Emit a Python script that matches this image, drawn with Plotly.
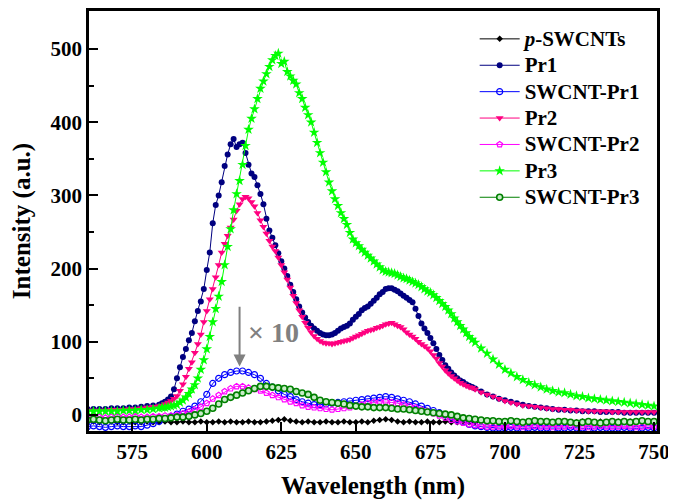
import plotly.graph_objects as go

# ---------------- data ----------------
# fine wavelength grid (nm) for the strong emission curves
wl_fine = list(range(560, 585, 2)) + list(range(585, 691)) + list(range(692, 751, 2))
# coarse wavelength grid (nm) for the weak curves
wl_coarse = list(range(560, 751, 2))

pr1 = [8, 8, 8, 8, 9, 9, 9, 10, 10, 11, 12, 13, 14,
       16, 18, 21, 25, 35, 50, 65, 79, 90, 102,
       112, 128, 142, 155, 172, 198, 222, 262, 287, 300,
       318, 340, 356, 370, 377, 366, 370, 372, 358, 342,
       330, 325, 314, 302, 288, 268, 252, 242, 232, 221,
       210, 200, 190, 178, 168, 158, 148, 140, 133, 127,
       122, 118, 115, 112, 110, 109, 109, 110, 112, 115,
       118, 120, 122, 125, 130, 134, 138, 143, 146, 148,
       152, 156, 160, 165, 168, 172, 173, 173, 171, 169,
       166, 163, 160, 157, 154, 145, 135, 125, 118, 112,
       105, 98, 90, 82, 75, 68, 63, 58, 54, 50,
       47, 45, 42, 40, 38, 36,
       32, 28, 25, 22, 20, 18, 16, 14, 12, 11,
       10, 9, 8, 7, 7, 6, 6, 5, 5, 5,
       4, 4, 4, 4, 3, 3, 3, 3, 3, 3]

pr2 = [6, 6, 6, 6, 7, 7, 7, 8, 8, 9, 10, 11, 12,
       13, 15, 17, 19, 22, 26, 33, 42, 52, 63,
       72, 85, 97, 110, 127, 142, 158, 172, 188, 205,
       222, 234, 245, 256, 267, 279, 288, 295, 298, 296,
       291, 285, 276, 266, 257, 248, 238, 230, 224, 215,
       205, 195, 185, 174, 163, 153, 143, 134, 126, 119,
       113, 108, 104, 101, 99, 98, 98, 97, 98, 99,
       100, 101, 102, 103, 105, 107, 109, 111, 113, 115,
       116, 117, 119, 120, 122, 124, 125, 126, 124, 122,
       120, 117, 113, 110, 107, 104, 100, 97, 94, 91,
       87, 82, 77, 71, 66, 61, 57, 53, 50, 47,
       44, 42, 40, 38, 37, 35,
       31, 28, 25, 22, 19, 17, 15, 13, 12, 11,
       10, 9, 8, 8, 7, 7, 6, 6, 5, 5,
       5, 5, 4, 4, 4, 4, 4, 4, 4, 4]

pr3 = [5, 5, 5, 5, 5, 5, 6, 6, 6, 7, 7, 8, 9,
       10, 10, 11, 12, 13, 14, 17, 20, 24, 29,
       35, 41, 50, 62, 75, 90, 107, 127, 145, 162,
       182, 205, 230, 254, 280, 302, 320, 342, 368, 390,
       405, 418, 432, 446, 456, 466, 476, 485, 491, 494,
       480, 483, 469, 463, 457, 452, 440, 432, 420, 410,
       400, 386, 372, 358, 345, 332, 318, 306, 295, 286,
       276, 268, 260, 249, 240, 235, 231, 226, 222, 218,
       214, 210, 206, 202, 198, 196, 195, 194, 193, 191,
       189, 187, 186, 184, 182, 180, 178, 175, 172, 169,
       167, 164, 160, 156, 152, 148, 143, 138, 132, 127,
       122, 117, 112, 107, 103, 99,
       91, 84, 76, 69, 62, 57, 52, 48, 44, 41,
       38, 35, 33, 31, 30, 28, 26, 25, 23, 22,
       21, 20, 19, 18, 17, 16, 15, 14, 13, 12]

swcnt_pr1 = [-16, -15, -16, -17, -16, -15, -16, -16, -15, -16,
             -14, -12, -9, -5, -2, 1, 5, 8, 12, 18,
             28, 43, 50, 55, 58, 60, 60, 58, 55, 50,
             43, 38, 33, 28, 25, 21, 18, 16, 14, 14,
             15, 16, 17, 18, 19, 20, 21, 22, 23, 24,
             25, 24, 22, 20, 18, 15, 12, 9, 6, 3,
             0, -3, -7, -10, -13, -15, -16, -17, -18, -18,
             -18, -17, -18, -19, -18, -17, -18, -18, -19, -18,
             -18, -17, -18, -18, -19, -18, -17, -18, -18, -18,
             -17, -18, -19, -18, -17, -18]

swcnt_pr2 = [-3, -2, -3, -4, -3, -2, -3, -3, -2, -3,
             -3, -2, -2, -1, -1, 0, 2, 4, 7, 11,
             16, 22, 27, 32, 36, 39, 39, 37, 35, 33,
             30, 27, 24, 21, 18, 16, 13, 11, 10, 9,
             8, 7, 8, 9, 10, 12, 14, 16, 17, 18,
             18, 17, 16, 14, 12, 10, 7, 5, 2, -1,
             -4, -7, -9, -11, -13, -14, -15, -16, -16, -16,
             -16, -15, -16, -17, -16, -15, -16, -16, -17, -16,
             -16, -15, -16, -16, -17, -16, -15, -16, -16, -16,
             -15, -16, -17, -16, -15, -16]

swcnt_pr3 = [-7, -6, -7, -8, -7, -6, -7, -7, -6, -7,
             -6, -6, -5, -5, -4, -3, -3, -2, 0, 2,
             5, 9, 15, 21, 24, 27, 30, 33, 36, 39,
             39, 38, 37, 36, 35, 32, 30, 28, 24, 20,
             18, 17, 16, 15, 13, 12, 11, 11, 10, 10,
             10, 9, 8, 8, 7, 6, 5, 4, 3, 2,
             1, 0, -2, -4, -5, -6, -7, -8, -8, -9,
             -9, -8, -9, -10, -9, -8, -9, -9, -10, -9,
             -9, -10, -11, -10, -9, -10, -11, -10, -9, -10,
             -9, -10, -9, -8, -9, -9]

p_swcnts = [-10, -9, -10, -10, -9, -10, -10, -9, -10, -10,
            -9, -10, -10, -9, -10, -10, -9, -10, -10, -9,
            -10, -10, -9, -10, -9, -10, -10, -9, -10, -10,
            -9, -8, -7, -6, -8, -9, -10, -9, -10, -10,
            -9, -10, -10, -9, -10, -10, -9, -10, -8, -7,
            -6, -7, -9, -10, -9, -10, -10, -9, -10, -10,
            -9, -10, -10, -9, -10, -10, -9, -10, -10, -9,
            -10, -9, -10, -10, -9, -10, -10, -9, -10, -10,
            -9, -10, -10, -9, -10, -10, -9, -10, -10, -9,
            -10, -9, -10, -10, -9, -10]

series_names = ["<i>p</i>-SWCNTs", "Pr1", "SWCNT-Pr1", "Pr2", "SWCNT-Pr2", "Pr3", "SWCNT-Pr3"]
x_ticks = [575, 600, 625, 650, 675, 700, 725, 750]
y_ticks = [0, 100, 200, 300, 400, 500]

# ---------------- figure ----------------
FONT = "Liberation Serif, Times New Roman, serif"

specs = [
    (wl_coarse, p_swcnts, "#000000", dict(symbol="diamond", size=5, color="#000000")),
    (wl_fine, pr1, "#000080", dict(symbol="circle", size=6, color="#000080")),
    (wl_coarse, swcnt_pr1, "#0000FF", dict(symbol="circle-open", size=6, color="#0000FF", line=dict(width=1.2))),
    (wl_fine, pr2, "#FF0080", dict(symbol="triangle-down", size=7, color="#FF0080")),
    (wl_coarse, swcnt_pr2, "#FF00FF", dict(symbol="pentagon-open", size=6, color="#FF00FF", line=dict(width=1.2))),
    (wl_fine, pr3, "#00FF00", dict(symbol="star", size=8, color="#00FF00")),
    (wl_coarse, swcnt_pr3, "#008000", dict(symbol="circle", size=6, color="#c8ecc8", line=dict(width=1.6, color="#008000"))),
]

fig = go.Figure()
for i, (xs, ys, col, mk) in enumerate(specs):
    fig.add_trace(go.Scatter(
        x=xs, y=ys, mode="lines+markers",
        name='<span style="font-size:21px">' + series_names[i] + "</span>",
        line=dict(color=col, width=1), marker=mk,
    ))

# "x 10" annotation with arrow
fig.add_annotation(x=611, y=66, ax=611, ay=150, xref="x", yref="y", axref="x", ayref="y",
                   text="", showarrow=True, arrowhead=2, arrowsize=1.2, arrowwidth=2,
                   arrowcolor="#808080")
fig.add_annotation(x=613.3, y=113, xref="x", yref="y", text="× 10", showarrow=False,
                   xanchor="left", font=dict(family=FONT, size=28, color="#808080", weight="bold"))

axis_common = dict(
    showgrid=False, zeroline=False, showline=True, linecolor="black", linewidth=2.5,
    mirror=True, ticks="inside", ticklen=9, tickwidth=2, tickcolor="black", automargin=False,
    tickfont=dict(family=FONT, size=21, color="black", weight="bold"),
)
fig.update_xaxes(range=[560.5, 751], tickvals=x_ticks, ticktext=[str(v) for v in x_ticks],
                 title=dict(text="Wavelength (nm)", font=dict(family=FONT, size=25, color="black", weight="bold"),
                            standoff=16),
                 **axis_common)
fig.update_yaxes(range=[-22, 552], tickvals=y_ticks, ticktext=[str(v) for v in y_ticks],
                 minor=dict(tickvals=[50, 150, 250, 350, 450], ticks="inside", ticklen=5, tickwidth=2,
                            tickcolor="black"),
                 title=dict(text="Intensity (a.u.)", font=dict(family=FONT, size=25, color="black", weight="bold"),
                            standoff=14),
                 **axis_common)

# page has an 8px body margin, so the figure is sized/offset to place the frame at the reference spot
fig.update_layout(
    width=667, height=492,
    margin=dict(l=81, r=18, t=3, b=69),
    plot_bgcolor="white", paper_bgcolor="white",
    showlegend=True,
    legend=dict(x=0.679, y=0.977, xanchor="left", yanchor="top", bgcolor="rgba(0,0,0,0)",
                font=dict(family=FONT, size=18, color="black", weight="bold"),
                tracegroupgap=0, itemwidth=40),
)

fig.write_html("out.html")
